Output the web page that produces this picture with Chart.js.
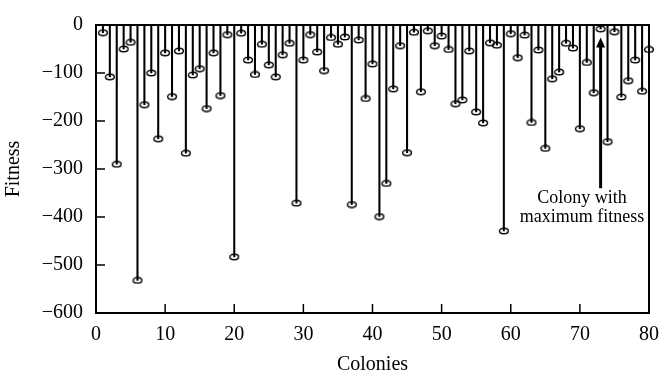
<!DOCTYPE html>
<html>
<head>
<meta charset="utf-8">
<script src="https://cdn.jsdelivr.net/npm/chart.js@4.4.0/dist/chart.umd.min.js"></script>
<style>
  html, body { margin: 0; padding: 0; background: #fff; }
</style>
</head>
<body>
<canvas id="chart" width="669" height="378"></canvas>
<script>
// colony index and its fitness
const colonies = [
  1, 2, 3, 4, 5, 6, 7, 8, 9, 10, 11, 12, 13, 14, 15, 16, 17, 18, 19, 20,
  21, 22, 23, 24, 25, 26, 27, 28, 29, 30, 31, 32, 33, 34, 35, 36, 37, 38, 39, 40,
  41, 42, 43, 44, 45, 46, 47, 48, 49, 50, 51, 52, 53, 54, 55, 56, 57, 58, 59, 60,
  61, 62, 63, 64, 65, 66, 67, 68, 69, 70, 71, 72, 73, 74, 75, 76, 77, 78, 79, 80
];
const fitness = [
  -16, -108, -290, -50, -36, -532, -166, -100, -237, -58,
  -149, -54, -267, -104, -91, -174, -58, -147, -20, -483,
  -17, -73, -103, -40, -83, -108, -62, -38, -371, -73,
  -20, -56, -95, -26, -40, -25, -374, -31, -153, -81,
  -399, -330, -133, -43, -266, -15, -139, -12, -43, -23,
  -51, -164, -156, -54, -181, -204, -37, -42, -429, -18,
  -68, -21, -203, -52, -257, -112, -98, -38, -48, -216,
  -78, -141, -8, -243, -14, -150, -116, -73, -138, -51
];
const xTicks = [0, 10, 20, 30, 40, 50, 60, 70, 80];
const yTicks = [0, -100, -200, -300, -400, -500, -600];

// annotation: arrow pointing at the best colony
const arrowColony = 73;
const arrowTip = -26;
const arrowTail = -340;
const noteLines = ['Colony with', 'maximum fitness'];
const noteX = 70.3;
const noteY = [-360, -400];

const FONT = '"Liberation Serif", "Times New Roman", serif';

function ellipseMarker() {
  const c = document.createElement('canvas');
  c.width = 12;
  c.height = 8;
  const g = c.getContext('2d');
  g.strokeStyle = '#000';
  g.lineWidth = 1.4;
  g.beginPath();
  g.ellipse(6, 4, 4.4, 2.8, 0, 0, Math.PI * 2);
  g.stroke();
  return c;
}

const points = colonies.map((c, i) => ({ x: c, y: fitness[i] }));

const framePlugin = {
  id: 'frame',
  beforeDatasetsDraw(chart) {
    const { ctx, chartArea: a, scales: { x, y } } = chart;
    ctx.save();
    ctx.strokeStyle = '#000';
    ctx.lineWidth = 2;
    ctx.strokeRect(a.left, a.top, a.right - a.left, a.bottom - a.top);
    ctx.lineWidth = 1.5;
    ctx.beginPath();
    x.ticks.forEach(t => {
      const px = x.getPixelForValue(t.value);
      ctx.moveTo(px, a.bottom);
      ctx.lineTo(px, a.bottom - 9);
    });
    y.ticks.forEach(t => {
      const py = y.getPixelForValue(t.value);
      ctx.moveTo(a.left, py);
      ctx.lineTo(a.left + 9, py);
    });
    ctx.stroke();
    ctx.restore();
  },
  afterDatasetsDraw(chart) {
    const { ctx, scales: { x, y } } = chart;
    const ax = x.getPixelForValue(arrowColony);
    const tip = y.getPixelForValue(arrowTip);
    const tail = y.getPixelForValue(arrowTail);
    ctx.save();
    ctx.strokeStyle = '#000';
    ctx.fillStyle = '#000';
    ctx.lineWidth = 3;
    ctx.beginPath();
    ctx.moveTo(ax, tail);
    ctx.lineTo(ax, tip + 8);
    ctx.stroke();
    ctx.beginPath();
    ctx.moveTo(ax, tip);
    ctx.lineTo(ax - 4.5, tip + 10);
    ctx.lineTo(ax + 4.5, tip + 10);
    ctx.closePath();
    ctx.fill();

    ctx.font = '18px ' + FONT;
    ctx.textAlign = 'center';
    ctx.textBaseline = 'middle';
    noteLines.forEach((line, i) => {
      ctx.fillText(line, x.getPixelForValue(noteX), y.getPixelForValue(noteY[i]));
    });
    ctx.restore();
  }
};

const minusFmt = v => (v < 0 ? '\u2212' + Math.abs(v) : String(v));

new Chart(document.getElementById('chart'), {
  type: 'bar',
  data: {
    datasets: [
      {
        type: 'scatter',
        data: points,
        pointStyle: ellipseMarker(),
        pointRadius: 4,
        showLine: false,
        clip: false,
        order: 0
      },
      {
        type: 'bar',
        data: points,
        backgroundColor: '#000',
        borderWidth: 0,
        barThickness: 1.4,
        order: 1
      }
    ]
  },
  options: {
    responsive: false,
    animation: false,
    devicePixelRatio: 1,
    layout: { padding: { top: 14, right: 11, left: 0, bottom: 0 } },
    plugins: { legend: { display: false }, tooltip: { enabled: false } },
    scales: {
      x: {
        type: 'linear',
        min: 0,
        max: 80,
        offset: false,
        grid: { display: false, drawTicks: false },
        border: { display: false },
        afterBuildTicks: s => { s.ticks = xTicks.map(v => ({ value: v })); },
        afterFit: s => { s.height = 65; },
        ticks: { color: '#000', font: { family: FONT, size: 20 }, padding: 10, maxRotation: 0 },
        title: {
          display: true,
          text: 'Colonies',
          color: '#000',
          font: { family: FONT, size: 20 },
          padding: { top: 0, bottom: 1 }
        }
      },
      y: {
        min: -600,
        max: 0,
        grid: { display: false, drawTicks: false },
        border: { display: false },
        afterBuildTicks: s => { s.ticks = yTicks.map(v => ({ value: v })); },
        afterFit: s => { s.width = 96; },
        ticks: { color: '#000', font: { family: FONT, size: 20 }, padding: 13, callback: minusFmt },
        title: {
          display: true,
          text: 'Fitness',
          color: '#000',
          font: { family: FONT, size: 20 },
          padding: { top: 2, bottom: 4 }
        }
      }
    }
  },
  plugins: [framePlugin]
});
</script>
</body>
</html>
